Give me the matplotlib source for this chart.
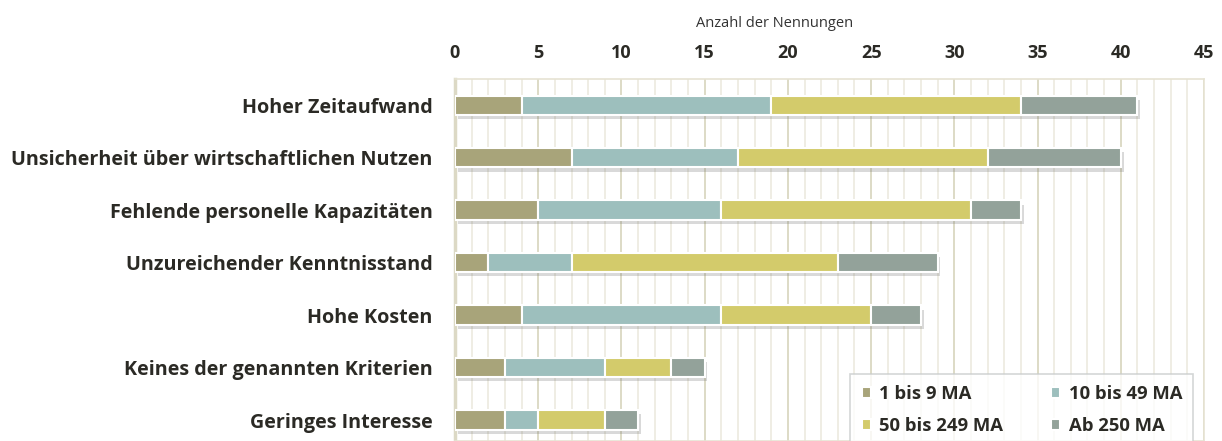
import matplotlib
matplotlib.use("Agg")
import matplotlib.pyplot as plt
import matplotlib.patheffects as pe
import numpy as np

plt.rcParams['font.family'] = ['Open Sans', 'DejaVu Sans']

# Data
categories = [
    "Hoher Zeitaufwand",
    "Unsicherheit über wirtschaftlichen Nutzen",
    "Fehlende personelle Kapazitäten",
    "Unzureichender Kenntnisstand",
    "Hohe Kosten",
    "Keines der genannten Kriterien",
    "Geringes Interesse",
]
series_names = ["1 bis 9 MA", "10 bis 49 MA", "50 bis 249 MA", "Ab 250 MA"]
ma_1_9 = [4, 7, 5, 2, 4, 3, 3]
ma_10_49 = [15, 10, 11, 5, 12, 6, 2]
ma_50_249 = [15, 15, 15, 16, 9, 4, 4]
ma_250 = [7, 8, 3, 6, 3, 2, 2]
colors = ["#a8a47a", "#9dbfbd", "#d3cb6b", "#93a29a"]
text_col = "#2b2a25"

fig = plt.figure(figsize=(12.22, 4.41), dpi=100)
ax = fig.add_axes([455 / 1222, 0.0, 749 / 1222, 1 - 79 / 441])

y = np.arange(len(categories))
left = np.zeros(len(categories))
shadow = [pe.SimplePatchShadow(offset=(2, -3), shadow_rgbFace="#777777", alpha=0.28), pe.Normal()]
handles = []
for vals, name, col in zip([ma_1_9, ma_10_49, ma_50_249, ma_250], series_names, colors):
    bars = ax.barh(y, vals, left=left, height=0.37, color=col, edgecolor="white",
                   linewidth=1.5, label=name, zorder=3)
    for b in bars:
        b.set_path_effects(shadow)
    handles.append(bars)
    left += np.array(vals)

ax.set_xlim(0, 45)
ax.set_ylim(6.4, -0.5)

# grid
ax.set_xticks(np.arange(0, 46, 5))
ax.set_xticks(np.arange(0, 46, 1), minor=True)
ax.grid(axis="x", which="minor", color="#eceadf", linewidth=1.2, zorder=0)
ax.grid(axis="x", which="major", color="#dddac6", linewidth=1.4, zorder=0)

ax.xaxis.tick_top()
ax.tick_params(axis="x", which="both", length=0, pad=12, labelsize=13)
for lab in ax.get_xticklabels():
    lab.set_fontweight("bold")
    lab.set_color(text_col)

ax.set_yticks(y)
ax.set_yticklabels(categories, fontsize=14.2, fontweight="bold", color=text_col)
ax.tick_params(axis="y", length=0, pad=16)

ax.xaxis.set_label_position("top")
ax.set_xlabel("Anzahl der Nennungen", fontsize=10.5, color="#333333")
ax.xaxis.set_label_coords(0.427, 1.145)

for s in ["top", "right", "bottom"]:
    ax.spines[s].set_color("#e6e3d3")
    ax.spines[s].set_linewidth(1.2)
ax.spines["left"].set_color("#dcd9c5")
ax.spines["left"].set_linewidth(2.5)

# legend filled row by row
order = [0, 2, 1, 3]
leg = ax.legend([handles[i] for i in order], [series_names[i] for i in order],
                loc="lower right", bbox_to_anchor=(0.998, -0.04), ncol=2,
                prop={"weight": "bold", "size": 13.3}, frameon=True, fancybox=False,
                handlelength=0.5, handleheight=0.5, columnspacing=2.6,
                handletextpad=0.45, borderpad=0.6, labelspacing=0.75)
leg.get_frame().set_edgecolor("#c9cccc")
leg.get_frame().set_linewidth(1.2)
for t in leg.get_texts():
    t.set_color(text_col)
for h in leg.legend_handles:
    h.set_path_effects([])

fig.savefig("out.png", dpi=100)
